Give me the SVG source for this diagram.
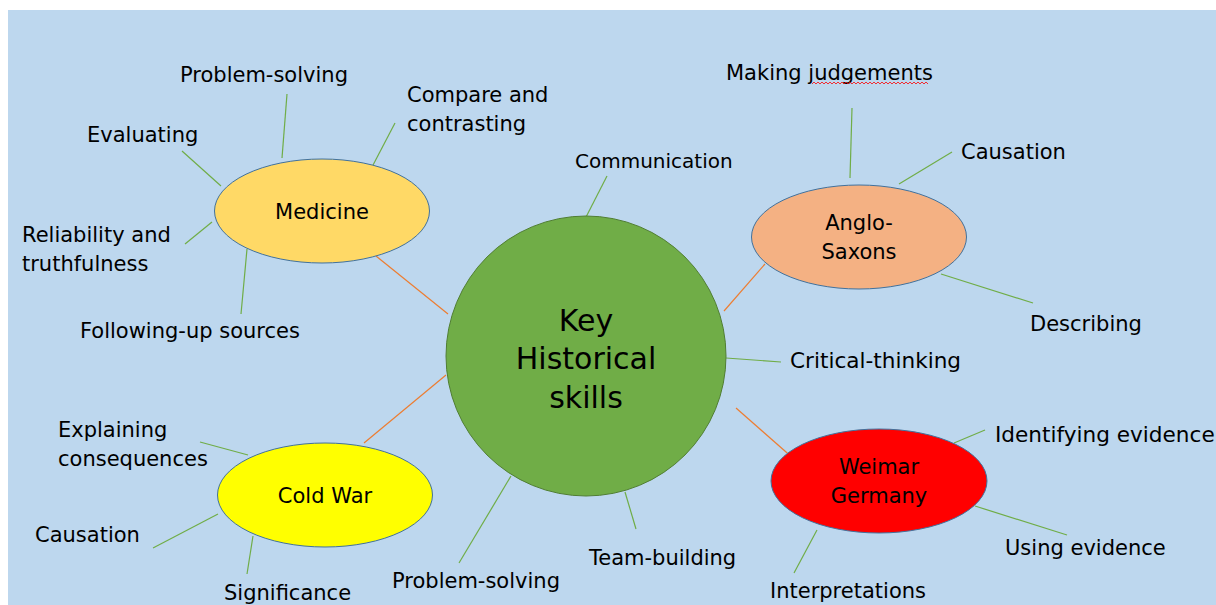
<svg xmlns="http://www.w3.org/2000/svg" width="1216" height="605" viewBox="0 0 1216 605">
<style>
text{font-family:"DejaVu Sans","Liberation Sans",sans-serif;font-size:21px;fill:#000}
.c{text-anchor:middle}
.w{font-size:21.6px}
.big{font-size:30px;text-anchor:middle}
.g line{stroke:#70AD47;stroke-width:1.2}
.o line{stroke:#ED7D31;stroke-width:1.2}
.node{stroke:#41719C;stroke-width:1}
</style>
<rect x="0" y="0" width="1216" height="605" fill="#FFFFFF"/>
<rect x="8" y="10" width="1208" height="595" fill="#BDD7EE"/>
<g id="connectors">
 <g class="o">
  <line x1="376" y1="256" x2="448" y2="314"/>
  <line x1="765" y1="264" x2="724" y2="311"/>
  <line x1="364" y1="443" x2="446" y2="375"/>
  <line x1="736" y1="408" x2="794" y2="459"/>
 </g>
 <g class="g">
  <line x1="287" y1="94" x2="282" y2="158"/>
  <line x1="182" y1="151" x2="221" y2="186"/>
  <line x1="395" y1="123" x2="372" y2="167"/>
  <line x1="185" y1="244" x2="212" y2="222"/>
  <line x1="247" y1="249" x2="241" y2="314"/>
  <line x1="607" y1="176" x2="584" y2="221"/>
  <line x1="852" y1="108" x2="850" y2="178"/>
  <line x1="952" y1="152" x2="899" y2="184"/>
  <line x1="941" y1="274" x2="1033" y2="303"/>
  <line x1="726" y1="358" x2="781" y2="362"/>
  <line x1="985" y1="430" x2="954" y2="443"/>
  <line x1="975" y1="506" x2="1067" y2="535"/>
  <line x1="817" y1="530" x2="794" y2="573"/>
  <line x1="625" y1="492" x2="636" y2="529"/>
  <line x1="511" y1="476" x2="459" y2="563"/>
  <line x1="200" y1="442" x2="248" y2="455"/>
  <line x1="153" y1="548" x2="218" y2="514"/>
  <line x1="253" y1="536" x2="247" y2="574"/>
 </g>
</g>
<g id="center">
 <circle cx="586" cy="356" r="140" fill="#70AD47" stroke="#507E32" stroke-width="1"/>
 <text class="big" x="586" y="331">Key</text>
 <text class="big" x="586" y="369">Historical</text>
 <text class="big" x="586" y="408">skills</text>
</g>
<g id="medicine">
 <ellipse class="node" cx="322" cy="211" rx="107.5" ry="52" fill="#FFD966"/>
 <text class="c" x="322" y="219">Medicine</text>
</g>
<g id="anglo-saxons">
 <ellipse class="node" cx="859" cy="237" rx="107.5" ry="52" fill="#F4B183"/>
 <text class="c" x="859" y="230">Anglo-</text>
 <text class="c" x="859" y="259">Saxons</text>
</g>
<g id="cold-war">
 <ellipse class="node" cx="325" cy="495" rx="107.5" ry="52" fill="#FFFF00"/>
 <text class="c" x="325" y="503">Cold War</text>
</g>
<g id="weimar-germany">
 <ellipse class="node" cx="879" cy="481" rx="108" ry="52" fill="#FF0000"/>
 <text class="c" x="879" y="474">Weimar</text>
 <text class="c" x="879" y="503">Germany</text>
</g>
<g id="labels">
 <text x="180" y="82">Problem-solving</text>
 <text x="87" y="142">Evaluating</text>
 <text x="407" y="102">Compare and</text>
 <text x="407" y="131">contrasting</text>
 <text x="22" y="242">Reliability and</text>
 <text x="22" y="271">truthfulness</text>
 <text x="80" y="338">Following-up sources</text>
 <text x="575" y="168" style="font-size:20px">Communication</text>
 <text x="726" y="80">Making judgements</text>
 <path d="M812 84 l2 -2 l2 2 l2 -2 l2 2 l2 -2 l2 2 l2 -2 l2 2 l2 -2 l2 2 l2 -2 l2 2 l2 -2 l2 2 l2 -2 l2 2 l2 -2 l2 2 l2 -2 l2 2 l2 -2 l2 2 l2 -2 l2 2 l2 -2 l2 2 l2 -2 l2 2 l2 -2 l2 2 l2 -2 l2 2 l2 -2 l2 2 l2 -2 l2 2 l2 -2 l2 2 l2 -2 l2 2 l2 -2 l2 2 l2 -2 l2 2 l2 -2 l2 2 l2 -2 l2 2 l2 -2 l2 2 l2 -2 l2 2 l2 -2 l2 2 l2 -2 l2 2 l2 -2 l2 2" fill="none" stroke="#FF0000" stroke-width="0.8"/>
 <text x="961" y="159">Causation</text>
 <text x="1030" y="331">Describing</text>
 <text class="w" x="790" y="368">Critical-thinking</text>
 <text class="w" x="995" y="442">Identifying evidence</text>
 <text x="1005" y="555">Using evidence</text>
 <text x="770" y="598">Interpretations</text>
 <text x="589" y="565">Team-building</text>
 <text x="392" y="588">Problem-solving</text>
 <text x="58" y="437">Explaining</text>
 <text x="58" y="466">consequences</text>
 <text x="35" y="542">Causation</text>
 <text x="224" y="600">Significance</text>
</g>
</svg>
